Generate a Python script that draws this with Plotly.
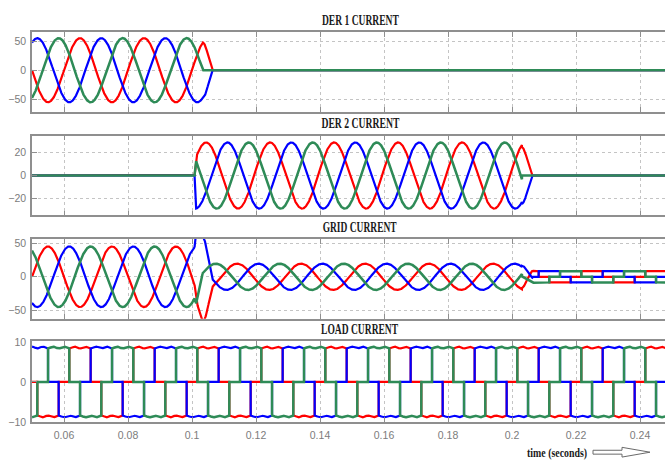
import json
import numpy as np
import plotly.graph_objects as go
from plotly.subplots import make_subplots

# ---- time base -------------------------------------------------------
t_start, t_stop, dt = 0.05, 0.25, 2.5e-5
f_sys = 50.0
x_tick_vals = [0.06, 0.08, 0.10, 0.12, 0.14, 0.16, 0.18, 0.20, 0.22, 0.24]
x_tick_text = ["0.06", "0.08", "0.1", "0.12", "0.14", "0.16", "0.18", "0.2", "0.22", "0.24"]

# ---- phases ----------------------------------------------------------
phase_names = ["Phase a", "Phase b", "Phase c"]
phase_colors = ["#ff0000", "#0000ff", "#2e8b57"]

# ---- panels ----------------------------------------------------------
panel_titles = ["DER 1 CURRENT", "DER 2 CURRENT", "GRID CURRENT", "LOAD CURRENT"]
panel_y_ticks = [[-50, 0, 50], [-20, 0, 20], [-50, 0, 50], [-10, 0, 10]]
panel_y_range = [[-72, 65], [-35, 35], [-63, 57], [-10, 10.2]]

# ---- DER 1 -----------------------------------------------------------
der1_amp = 55.0                 # peak current, A
der1_peak_time = 0.045          # instant of a phase-a maximum, s
der1_trip = [0.1033, 0.1063]    # phase-c current zero, phase a/b extinction

# ---- DER 2 -----------------------------------------------------------
der2_amp = 29.0
der2_peak_time = 0.1044
der2_connect = [0.1008, 0.1013]  # start of ramp-up, full output
der2_trip = [0.2031, 0.2063]

# ---- load (six-pulse rectifier) --------------------------------------
load_level = 8.6
load_center_time = 0.065        # centre of a phase-a positive conduction block
load_ripple = 0.22

# ======================================================================
t = np.arange(t_start, t_stop + dt / 2, dt)
omega = 2 * np.pi * f_sys
shift = 2 * np.pi / 3


def three_phase(amp, t_peak):
    return [amp * np.cos(omega * (t - t_peak) - k * shift) for k in range(3)]


def der_current(amp, t_peak, trip, connect=None):
    a, b, c = three_phase(amp, t_peak)
    t0, t1 = trip
    # phase c opens at its current zero, a and b then share the line current
    line = 0.5 * (a - b)
    env = np.cos(0.5 * np.pi * np.clip((t - t0) / (t1 - t0), 0, 1))
    opening = (t >= t0) & (t < t1)
    a = np.where(opening, line * env, a)
    b = np.where(opening, -line * env, b)
    c = np.where(t >= t0, 0.0, c)
    a = np.where(t >= t1, 0.0, a)
    b = np.where(t >= t1, 0.0, b)
    out = [a, b, c]
    if connect is not None:
        ramp = np.clip((t - connect[0]) / (connect[1] - connect[0]), 0, 1)
        out = [p * ramp for p in out]
    return out


def six_step(level, t_center, ripple):
    out = []
    for k in range(3):
        th = np.angle(np.exp(1j * (omega * (t - t_center) - k * shift)))
        sign = np.where(np.abs(th) < np.pi / 3, 1.0,
                        np.where(np.abs(th) > 2 * np.pi / 3, -1.0, 0.0))
        out.append(sign * (level - ripple * np.cos(6 * th)))
    return out


der1 = der_current(der1_amp, der1_peak_time, der1_trip)
der2 = der_current(der2_amp, der2_peak_time, der2_trip, der2_connect)
load = six_step(load_level, load_center_time, load_ripple)
load_fund = three_phase(load_level * 2 * np.sqrt(3) / np.pi, load_center_time)
grid = [np.where(t < der2_trip[1], lf - d1 - d2, ld)
        for lf, d1, d2, ld in zip(load_fund, der1, der2, load)]

panels = [der1, der2, grid, load]

# ======================================================================
W, H = 665, 466
plot_left = 32
panel_px = [(27, 109), (133, 215), (239, 321), (344, 427)]
title_px_y = [15, 121, 227, 332]
x_range = [t_start, t_start + (W - plot_left) * 0.02 / 64]

fig = make_subplots(rows=4, cols=1, shared_xaxes=False)

for r, currents in enumerate(panels, start=1):
    for name, color, y in zip(phase_names, phase_colors, currents):
        width = 2.5 if name == "Phase c" else 2.2
        fig.add_trace(go.Scatter(x=t, y=np.round(y, 3), mode="lines", name=name,
                                 line=dict(color=color, width=width),
                                 showlegend=False, hoverinfo="skip"), row=r, col=1)

axis_col = "#8f8f8f"
grid_col = "#c4c4c4"
tick_font = dict(family="Liberation Sans Narrow, Arial Narrow, Liberation Sans",
                 size=10.5, color="#7c7c7c")

for i in range(4):
    top, bot = panel_px[i]
    xa = "xaxis" if i == 0 else f"xaxis{i + 1}"
    ya = "yaxis" if i == 0 else f"yaxis{i + 1}"
    fig.layout[xa].update(
        domain=[plot_left / W, 1], range=x_range,
        tickvals=x_tick_vals, ticktext=x_tick_text, showticklabels=(i == 3),
        ticks="inside", ticklen=5, tickwidth=1.2, tickcolor=axis_col,
        showline=True, linecolor=axis_col, linewidth=1.5, mirror="ticks",
        showgrid=True, gridcolor=grid_col, griddash="dot", gridwidth=1,
        zeroline=False, tickfont=tick_font, ticklabelstandoff=3)
    fig.layout[ya].update(
        domain=[1 - bot / H, 1 - top / H], range=panel_y_range[i],
        tickvals=panel_y_ticks[i], ticks="inside", ticklen=5, tickwidth=1.2,
        tickcolor=axis_col, showline=True, linecolor=axis_col, linewidth=1.5,
        showgrid=True, gridcolor=grid_col, griddash="dot", gridwidth=1,
        zeroline=False, tickfont=tick_font, ticklabelstandoff=2)
    fig.add_annotation(x=360 / W, y=1 - title_px_y[i] / H, xref="paper", yref="paper",
                       text=panel_titles[i], showarrow=False, xanchor="center",
                       yanchor="middle",
                       font=dict(family="Liberation Serif", size=14, color="#1a1a1a",
                                 weight="bold"))

fig.add_annotation(x=557 / W, y=1 - 458 / H, xref="paper", yref="paper",
                   text="time (seconds)", showarrow=False, xanchor="center",
                   yanchor="middle",
                   font=dict(family="Liberation Serif", size=13.5, color="#1a1a1a",
                             weight="bold"))

# outlined arrow after the axis label
arrow_pts = [(593, 456), (622, 456), (622, 453), (650, 458), (622, 463), (622, 460), (593, 460)]
path = "M " + " L ".join(f"{px / W:.5f},{1 - py / H:.5f}" for px, py in arrow_pts) + " Z"
fig.add_shape(type="path", path=path, xref="paper", yref="paper",
              fillcolor="white", line=dict(color="#6a6a6a", width=1))

fig.update_layout(width=W, height=H, margin=dict(l=0, r=0, t=0, b=0),
                  paper_bgcolor="white", plot_bgcolor="white", showlegend=False)

label_widths = {"DER 1 CURRENT": 77, "DER 2 CURRENT": 78, "GRID CURRENT": 74,
                "LOAD CURRENT": 77, "time (seconds)": 60}
fit_js = """
(function(){
  var w = %s;
  function fit(){
    document.querySelectorAll('text.annotation-text').forEach(function(el){
      var k = el.textContent;
      if (w[k]) { el.setAttribute('textLength', w[k]); el.setAttribute('lengthAdjust', 'spacingAndGlyphs'); }
    });
  }
  fit(); setTimeout(fit, 30); setTimeout(fit, 200);
})();
""" % json.dumps(label_widths)

fig.write_html("out.html", post_script=fit_js)
